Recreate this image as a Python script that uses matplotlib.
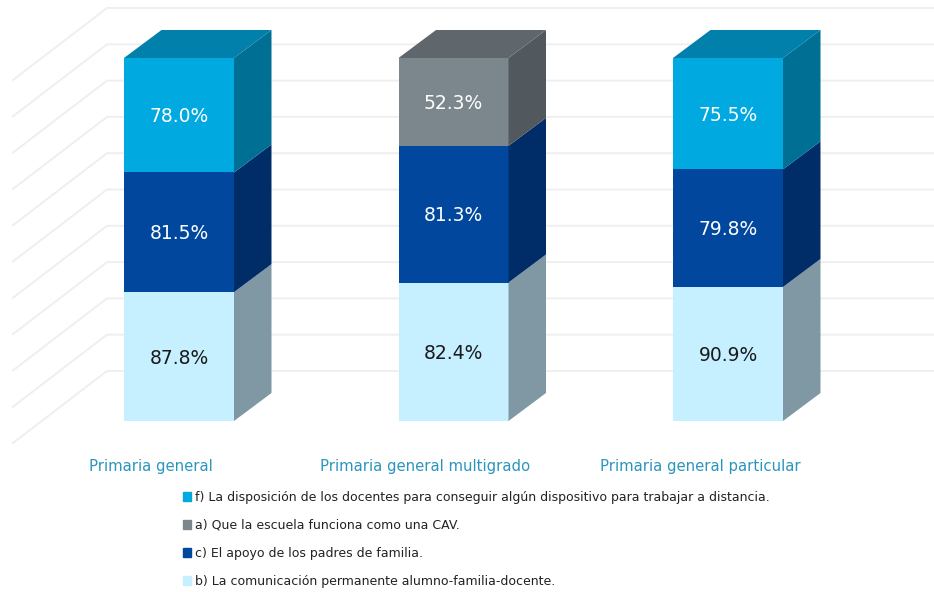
import matplotlib
matplotlib.use("Agg")
import matplotlib.pyplot as plt
import numpy as np
from matplotlib.patches import Patch

categories = ["Primaria general", "Primaria general multigrado", "Primaria general particular"]

# valores de abajo hacia arriba
comunicacion = [87.8, 82.4, 90.9]
apoyo = [81.5, 81.3, 79.8]
disposicion_o_cav = [78.0, 52.3, 75.5]
top_is_gray = [False, True, False]

legend_labels = [
    "f) La disposición de los docentes para conseguir algún dispositivo para trabajar a distancia.",
    "a) Que la escuela funciona como una CAV.",
    "c) El apoyo de los padres de familia.",
    "b) La comunicación permanente alumno-familia-docente.",
]

# colores: frente, lado, tapa
c_light = ("#c6efff", "#7f98a4", "#a0c0cc")
c_mid = ("#00479d", "#002d67", "#003a80")
c_blue = ("#00a9e0", "#006f94", "#0080ab")
c_gray = ("#7c868d", "#52595e", "#5f676c")

W, H = 934, 592
fig = plt.figure(figsize=(W / 100, H / 100), dpi=100)
ax = fig.add_axes([0, 0, 1, 1])

# escala: 274.5 px por categoria, 3.63 px por punto porcentual
px_x = 274.5
px_y = 3.63
ax.set_xlim(-179 / px_x, (W - 179) / px_x)
ax.set_ylim(-(H - 421) / px_y, 421 / px_y)
ax.axis("off")

bar_w = 110 / px_x
dx = 37.5 / px_x
dy = 28 / px_y

# reticula con pared y piso en perspectiva
wall_x = (107 - 179) / px_x
floor_x = (13 - 179) / px_x
wall_y0 = (421 - 371) / px_y
floor_y0 = (421 - 443) / px_y
right = (W - 179) / px_x
for g in np.arange(0, 101, 10):
    ax.plot([floor_x, wall_x, right], [floor_y0 + g, wall_y0 + g, wall_y0 + g],
            color="#efefef", lw=1.4, zorder=1, solid_joinstyle="miter")


def box(x, y0, y1, cols, top=False):
    l = x - bar_w / 2
    r = x + bar_w / 2
    ax.fill([l, r, r, l], [y0, y0, y1, y1], color=cols[0], lw=0, zorder=3)
    ax.fill([r, r + dx, r + dx, r], [y0, y0 + dy, y1 + dy, y1], color=cols[1], lw=0, zorder=3)
    if top:
        ax.fill([l, r, r + dx, l + dx], [y1, y1, y1 + dy, y1 + dy], color=cols[2], lw=0, zorder=3)


for i in range(3):
    vals = [comunicacion[i], apoyo[i], disposicion_o_cav[i]]
    total = sum(vals)
    cols = [c_light, c_mid, c_gray if top_is_gray[i] else c_blue]
    txt = ["#1a1a1a", "white", "white"]
    y = 0
    for j, v in enumerate(vals):
        h = v / total * 100
        box(i, y, y + h, cols[j], top=(j == 2))
        ax.text(i, y + h / 2 - 0.4, f"{v:.1f}%", color=txt[j], fontsize=13.5,
                ha="center", va="center", zorder=4)
        y += h

cat_x = [151, 425, 700]
for i, name in enumerate(categories):
    ax.text((cat_x[i] - 179) / px_x, (421 - 467) / px_y, name, color="#2a95bd",
            fontsize=10.7, ha="center", va="center")

handles = [Patch(color=c_blue[0]), Patch(color=c_gray[0]), Patch(color=c_mid[0]), Patch(color=c_light[0])]
ax.legend(handles, legend_labels, loc="upper left", bbox_to_anchor=(183 / W, 1 - 491 / H),
          frameon=False, fontsize=9, handlelength=0.66, handleheight=0.66, handletextpad=0.32,
          labelspacing=1.2, borderpad=0, borderaxespad=0, labelcolor="#222222")

fig.savefig("out.png", dpi=100)
